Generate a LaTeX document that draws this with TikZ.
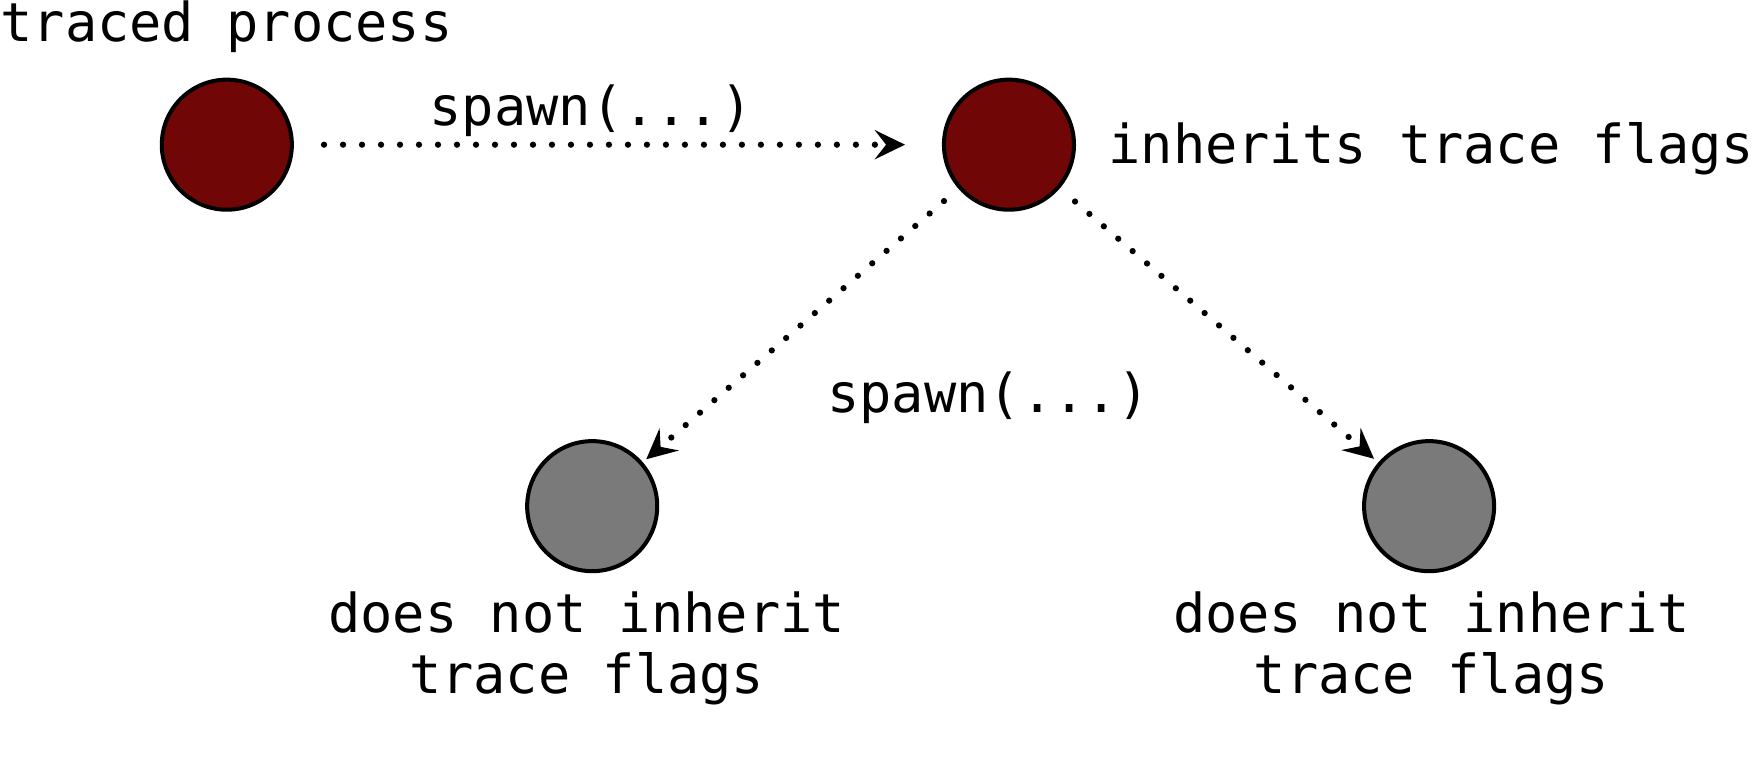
\documentclass[tikz,border=0pt]{standalone}
\usepackage{fontspec}
\setmainfont{DejaVu Sans Mono}
\usetikzlibrary{arrows.meta}
\definecolor{traced}{HTML}{700606}
\definecolor{untraced}{HTML}{7A7A7A}
\begin{document}
\begin{tikzpicture}[x=0.5pt,y=-0.5pt,
  proc/.style={circle,draw=black,line width=1.8pt,minimum size=58.2pt,inner sep=0pt},
  lbl/.style={inner sep=0pt,font=\fontsize{24}{27.5}\selectfont},
  spawnarrow/.style={line width=2.8pt,line cap=round,dash pattern=on 0pt off 8.5pt,
    -{Stealth[length=13.5pt,width=13pt,inset=5pt]}}]
\useasboundingbox (0,0) rectangle (1568,678);
\node[proc,fill=traced] (p1) at (203,129.5) {};
\node[proc,fill=traced] (p2) at (903,129.5) {};
\node[proc,fill=untraced] (p3) at (530,453) {};
\node[proc,fill=untraced] (p4) at (1279,453) {};
\node[lbl,anchor=base west] (t1) at (0,37) {traced process};
\node[lbl,anchor=base] (s1) at (529,112) {spawn(...)};
\node[lbl,anchor=base] (t2) at (1281,146) {inherits trace flags};
\node[lbl,anchor=base] (s2) at (885,369) {spawn(...)};
\node[lbl,anchor=base,align=center] (t3) at (525,621) {does not inherit\\trace flags};
\node[lbl,anchor=base,align=center] (t4) at (1281,621) {does not inherit\\trace flags};
\draw[spawnarrow,shorten <=13.5pt,shorten >=16.5pt] (p1) -- (p2);
\draw[spawnarrow,shorten <=8.5pt,shorten >=2pt] (p2) -- (p3);
\draw[spawnarrow,shorten <=9pt,shorten >=2.5pt] (p2) -- (p4);
\end{tikzpicture}
\end{document}
